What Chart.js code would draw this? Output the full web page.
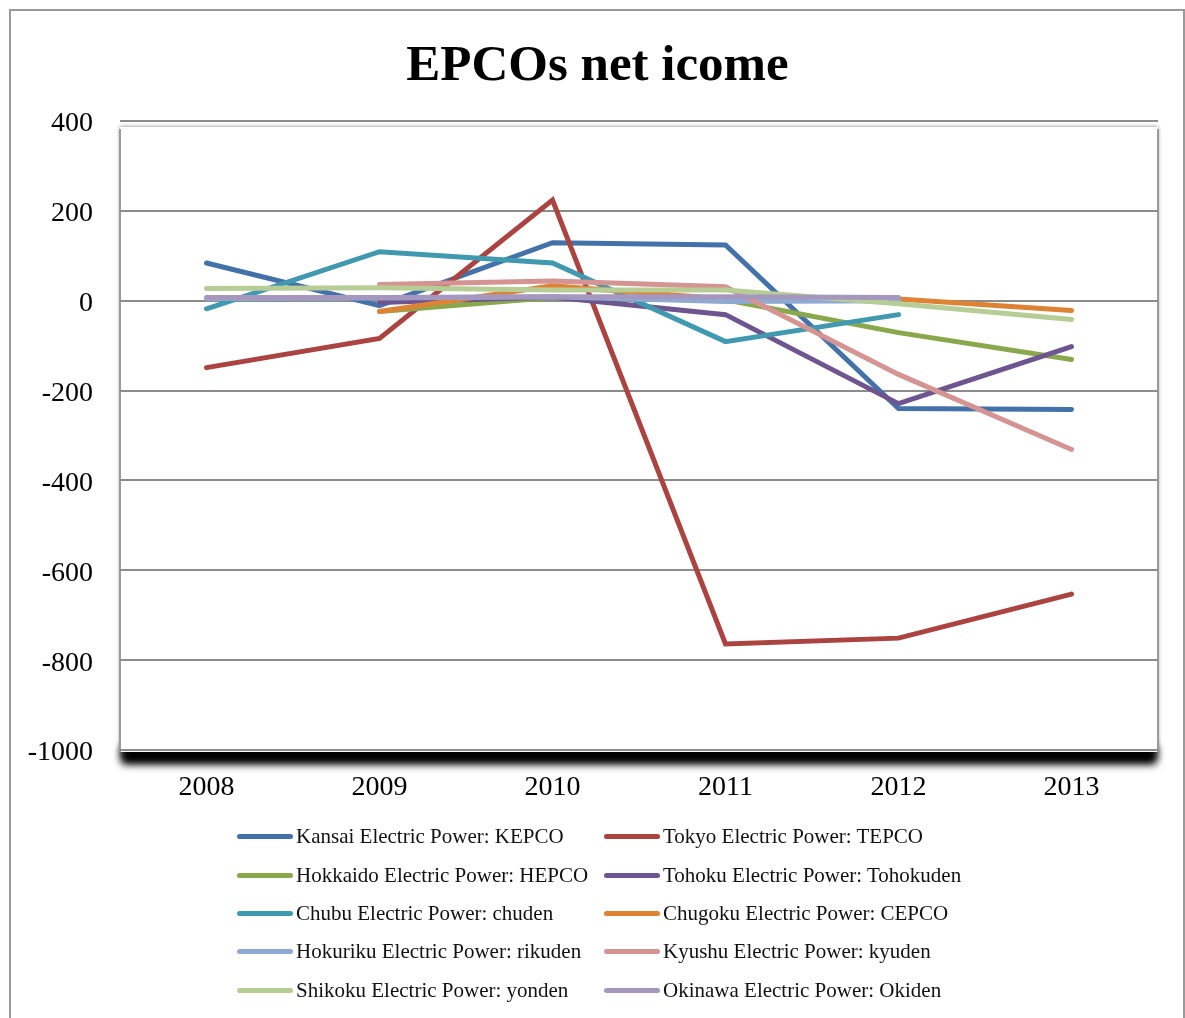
<!DOCTYPE html>
<html><head><meta charset="utf-8">
<script src="https://cdn.jsdelivr.net/npm/chart.js@4/dist/chart.umd.min.js"></script>
<style>
html,body{margin:0;padding:0;background:#fff;}
#wrap{position:relative;width:1185px;height:1018px;overflow:hidden;}
#frame{position:absolute;left:9px;top:9px;width:1176px;height:1100px;border:2px solid #9a9a9a;box-sizing:border-box;}
#title{position:absolute;left:0;width:1195px;top:34px;text-align:center;font-family:"Liberation Serif",serif;font-weight:bold;font-size:51px;color:#000;}
canvas{position:absolute;left:0;top:0;}
.leg{position:absolute;font-family:"Liberation Serif",serif;font-size:21px;color:#111;white-space:nowrap;line-height:24px;}
.leg span.ln{position:absolute;left:-59px;top:10px;width:56px;height:5px;border-radius:3px;}
</style></head>
<body><div id="wrap">
<div id="frame"></div>
<canvas id="c" width="1185" height="1018"></canvas>
<div id="title">EPCOs net icome</div>
<div id="legend"></div>
</div>
<script>
const years = ["2008","2009","2010","2011","2012","2013"];
const seriesNames = [
 "Kansai Electric Power: KEPCO","Tokyo Electric Power: TEPCO",
 "Hokkaido Electric Power: HEPCO","Tohoku Electric Power: Tohokuden",
 "Chubu Electric Power: chuden","Chugoku Electric Power: CEPCO",
 "Hokuriku Electric Power: rikuden","Kyushu Electric Power: kyuden",
 "Shikoku Electric Power: yonden","Okinawa Electric Power: Okiden"];
const kansai   = [84, -11, 129, 124, -240, -242];
const tokyo    = [-149, -84, 224, -764, -751, -653];
const hokkaido = [null, -24, 7, 2, -71, -131];
const tohoku   = [null, -4, 8, -31, -229, -102];
const chubu    = [-18, 109, 84, -91, -31, null];
const chugoku  = [null, -24, 33, 4, 4, -22];
const hokuriku = [5, 6, 9, -2, 0, null];
const kyushu   = [null, 36, 44, 31, -164, -331];
const shikoku  = [27, 29, 24, 24, -7, -42];
const okinawa  = [7, 7, 9, 9, 7, null];
const yTicks = [400, 200, 0, -200, -400, -600, -800, -1000];
const colors = ["#4372ab","#ab4340","#89a84b","#6e5590","#4199b0","#de8234","#8faad2","#d59392","#b6cd95","#a697bf"];
const allData = [kansai,tokyo,hokkaido,tohoku,chubu,chugoku,hokuriku,kyushu,shikoku,okinawa];

const shadowPlugin = {
  id:'shadowArea',
  beforeDraw(chart){
    const {ctx, chartArea:a} = chart;
    const w = a.right - a.left;
    const off = 5000;
    ctx.save();
    ctx.shadowColor='rgba(0,0,0,1)';
    ctx.shadowBlur=9;
    ctx.shadowOffsetX=off;
    ctx.fillStyle='#000';
    ctx.fillRect(a.left+2-off, a.bottom-4, w-4, 18);
    ctx.fillRect(a.left+2-off, a.bottom-2, w-4, 12);
    ctx.restore();
    ctx.save();
    ctx.shadowColor='rgba(0,0,0,0.5)';
    ctx.shadowBlur=4;
    ctx.fillStyle='#fff';
    ctx.fillRect(a.left, a.top+6, w, a.bottom-a.top-4);
    ctx.restore();
    ctx.fillStyle='#fff';
    ctx.fillRect(a.left, a.top+6, w, a.bottom-a.top-4);
    ctx.fillStyle='#9a9a9a';
    ctx.fillRect(a.left-1, a.top+8, 2, a.bottom-a.top-6);
    ctx.fillRect(a.right-1, a.top+8, 2, a.bottom-a.top-6);
  }
};

new Chart(document.getElementById('c'), {
  type:'line',
  data:{labels:years, datasets: allData.map((d,i)=>({
    label:seriesNames[i], data:d, borderColor:colors[i], backgroundColor:colors[i],
    borderWidth:5, pointRadius:0, tension:0, order:10-i, borderCapStyle:'round', borderJoinStyle:'miter'
  }))},
  options:{
    responsive:false, animation:false,
    layout:{padding:{top:121,left:0,right:27,bottom:188}},
    plugins:{legend:{display:false}, title:{display:false}, tooltip:{enabled:false}},
    scales:{
      x:{offset:true, grid:{display:false}, border:{display:false},
         ticks:{color:'#000', font:{family:'Liberation Serif', size:28}, padding:13},
         afterFit(s){ s.height=80; }},
      y:{min:-1000, max:400,
         afterBuildTicks(s){ s.ticks = yTicks.map(v=>({value:v})); },
         grid:{color:'#8c8c8c', lineWidth:2, drawTicks:false},
         border:{display:false},
         ticks:{color:'#000', font:{family:'Liberation Serif', size:28}, padding:27, labelOffset:3,
                callback:(v)=>String(v)},
         afterFit(s){ s.width=120; }}
    }
  },
  plugins:[shadowPlugin]
});

const leg = document.getElementById('legend');
const rows=[836,875,913,951,990];
seriesNames.forEach((n,i)=>{
  const col=i%2, row=Math.floor(i/2);
  const d=document.createElement('div');
  d.className='leg';
  d.style.left=(col?663:296)+'px';
  d.style.top=(rows[row]-12)+'px';
  d.innerHTML='<span class="ln" style="background:'+colors[i]+'"></span>'+n;
  leg.appendChild(d);
});
</script>
</body></html>
